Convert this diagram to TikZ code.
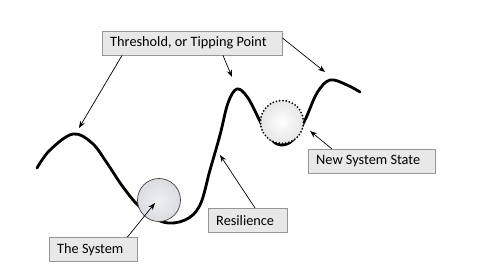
\documentclass[tikz,border=0pt]{standalone}
\usepackage{fontspec}
\setmainfont{Carlito}
\usetikzlibrary{arrows.meta,positioning,calc}
\definecolor{boxfill}{RGB}{232,232,232}
\definecolor{boxline}{RGB}{150,150,150}
\definecolor{ballfill}{RGB}{218,220,225}
\newcommand{\labelbox}[4]{\node[labelbox] (#1) at #2 {\makebox[#3][l]{#4}};}

\begin{document}
\begin{tikzpicture}[x=0.03cm,y=-0.03cm,
		labelbox/.style={draw=boxline,fill=boxfill,anchor=north west,inner xsep=0.24cm,minimum height=0.72cm,font=\fontsize{12.2}{14}\selectfont},
		pointer/.style={-{Stealth[length=6pt,width=4.5pt]},line width=0.6pt}]
		\useasboundingbox (0,0) rectangle (480,275);
		% landscape
		\draw[line width=2.4pt,line cap=round] plot[smooth,tension=0.6] coordinates {(37,168) (50,150) (73,134) (92,143) (107,163) (123,187) (140,207) (163,222) (185,220) (200,205) (210,170) (220,135) (228,103) (237,89) (248,98) (262,125) (272,140) (281,145) (293,140) (305,120) (317,93) (330,80) (347,85) (360,92)};
		% balls
		\node[circle,draw=black!75,line width=0.6pt,inner color=ballfill!45,outer color=ballfill,minimum size=1.29cm] (ball) at (159,200) {};
		\node[circle,draw,line width=1.7pt,line cap=round,dash pattern=on 0pt off 2.8pt,inner color=white,outer color=black!10,minimum size=1.29cm] (newball) at (282,122) {};
		% labels
		\labelbox{thr}{(102,31)}{4.92cm}{Threshold, or Tipping Point}
		\labelbox{sys}{(49,237)}{2.16cm}{The System}
		\labelbox{res}{(208,208)}{1.89cm}{Resilience}
		\labelbox{new}{(308,149)}{3.33cm}{New System State}
		% arrow ends
		\coordinate (peakA) at (79,128);
		\coordinate (peakB) at (232,77);
		\coordinate (peakC) at (325,72);
		\coordinate (ballpt) at (155,203);
		\coordinate (slope) at (220,155);
		\coordinate (newpt) at (310,131);
		\draw[pointer] ([xshift=0.6cm]thr.south west) -- (peakA);
		\draw[pointer] ([xshift=3.63cm]thr.south west) -- (peakB);
		\draw[pointer] ([yshift=-0.21cm]thr.north east) -- (peakC);
		\draw[pointer] ([xshift=-0.3cm]sys.north east) -- (ballpt);
		\draw[pointer] ([xshift=1.41cm]res.north west) -- (slope);
		\draw[pointer] ([xshift=0.72cm]new.north west) -- (newpt);
\end{tikzpicture}
\end{document}
